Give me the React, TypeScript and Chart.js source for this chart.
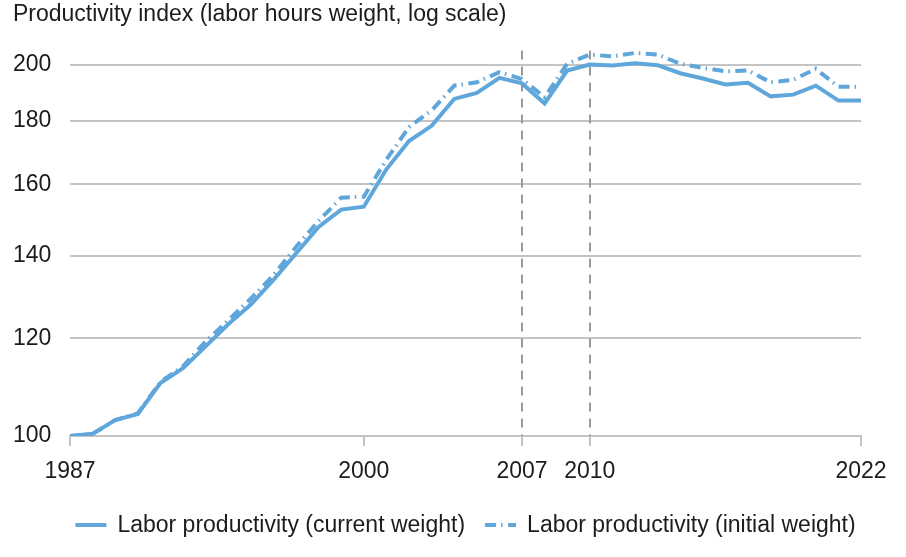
import React, { useEffect, useRef } from 'react';
import { Chart, registerables } from 'chart.js';

Chart.register(...registerables);

const years = [
  1987, 1988, 1989, 1990, 1991, 1992, 1993, 1994, 1995, 1996, 1997, 1998,
  1999, 2000, 2001, 2002, 2003, 2004, 2005, 2006, 2007, 2008, 2009, 2010,
  2011, 2012, 2013, 2014, 2015, 2016, 2017, 2018, 2019, 2020, 2021, 2022,
];
const currentWeight = [
  100, 100.4, 103.0, 104.2, 110.4, 113.5, 118.2, 123.2, 127.8, 133.8, 140.6, 147.7,
  152.6, 153.4, 164.5, 173.4, 178.4, 187.6, 189.7, 195.1, 193.1, 186.0, 197.8, 200.0,
  199.7, 200.5, 199.8, 196.8, 194.9, 192.7, 193.3, 188.5, 189.1, 192.3, 187.0, 187.0,
];
const initialWeight = [
  100, 100.4, 103.0, 104.3, 110.6, 113.9, 119.3, 124.1, 129.2, 135.0, 142.3, 149.4,
  156.0, 156.3, 167.5, 178.0, 183.6, 192.3, 193.5, 197.2, 194.7, 188.2, 200.3, 203.8,
  203.1, 204.4, 203.8, 200.3, 198.8, 197.5, 197.8, 193.5, 194.4, 198.4, 191.9, 191.9,
];
const xTickYears = [1987, 2000, 2007, 2010, 2022];
const yTickValues = [100, 120, 140, 160, 180, 200];
const markerYears = [2007, 2010];
const titleText = 'Productivity index (labor hours weight, log scale)';
const seriesLabels = [
  'Labor productivity (current weight)',
  'Labor productivity (initial weight)',
];

const FONT = "'Liberation Sans', Arial, Helvetica, sans-serif";
const LINE_COLOR = '#5fa6db';
const TEXT_COLOR = '#1c1c1c';
const DASH = [11, 5, 1.5, 5.5];

const markerLines = {
  id: 'markerLines',
  beforeDatasetsDraw(chart: any) {
    const { ctx, chartArea, scales } = chart;
    ctx.save();
    ctx.strokeStyle = '#9a9a9a';
    ctx.lineWidth = 2;
    ctx.setLineDash([9, 7]);
    markerYears.forEach((yr) => {
      const x = Math.round(scales.x.getPixelForValue(yr));
      ctx.beginPath();
      ctx.moveTo(x, chartArea.top);
      ctx.lineTo(x, chartArea.bottom);
      ctx.stroke();
    });
    ctx.restore();
  },
};

// Legend centred under the plot area (drawn from the datasets)
const bottomLegend = {
  id: 'bottomLegend',
  afterDraw(chart: any) {
    const { ctx, chartArea } = chart;
    const datasets = chart.data.datasets;
    const sampleW = 31;
    const textGap = 11;
    const itemGap = 20;
    ctx.save();
    ctx.font = `23px ${FONT}`;
    ctx.textBaseline = 'middle';
    ctx.textAlign = 'left';
    const widths = datasets.map((ds: any) => sampleW + textGap + ctx.measureText(ds.label).width);
    const total = widths.reduce((a: number, b: number) => a + b, 0) + itemGap * (datasets.length - 1);
    let x = (chartArea.left + chartArea.right) / 2 - total / 2;
    const y = 525;
    datasets.forEach((ds: any, i: number) => {
      ctx.strokeStyle = ds.borderColor;
      ctx.lineWidth = ds.borderWidth;
      ctx.setLineDash(ds.borderDash || []);
      ctx.beginPath();
      ctx.moveTo(x, y);
      ctx.lineTo(x + sampleW, y);
      ctx.stroke();
      ctx.setLineDash([]);
      ctx.fillStyle = TEXT_COLOR;
      ctx.fillText(ds.label, x + sampleW + textGap, y + 1);
      x += widths[i] + itemGap;
    });
    ctx.restore();
  },
};

export default function App() {
  const canvasRef = useRef<HTMLCanvasElement | null>(null);

  useEffect(() => {
    document.body.style.margin = '0';
    const canvas = canvasRef.current;
    if (!canvas) return;
    const chart = new Chart(canvas, {
      type: 'line',
      data: {
        datasets: [
          {
            label: seriesLabels[0],
            data: years.map((yr, i) => ({ x: yr, y: currentWeight[i] })),
            borderColor: LINE_COLOR,
            backgroundColor: LINE_COLOR,
            borderWidth: 4,
            pointRadius: 0,
            tension: 0,
          },
          {
            label: seriesLabels[1],
            data: years.map((yr, i) => ({ x: yr, y: initialWeight[i] })),
            borderColor: LINE_COLOR,
            backgroundColor: LINE_COLOR,
            borderWidth: 4,
            borderDash: DASH,
            pointRadius: 0,
            tension: 0,
          },
        ],
      },
      options: {
        animation: false,
        responsive: false,
        maintainAspectRatio: false,
        layout: { padding: { left: 13, right: 45, top: 0, bottom: 75 } },
        scales: {
          x: {
            type: 'linear',
            min: 1987,
            max: 2022,
            afterBuildTicks: (scale: any) => {
              scale.ticks = xTickYears.map((v) => ({ value: v }));
            },
            afterFit: (scale: any) => {
              scale.height = 46;
            },
            ticks: {
              autoSkip: false,
              maxRotation: 0,
              padding: 12,
              color: TEXT_COLOR,
              font: { family: FONT, size: 23 },
              callback: (v: any) => String(v),
            },
            grid: {
              drawOnChartArea: false,
              drawTicks: true,
              tickLength: 10,
              color: '#c4c4c4',
              lineWidth: 2,
            },
            border: { display: true, color: '#c4c4c4', width: 2 },
          },
          y: {
            type: 'logarithmic',
            min: 100,
            max: 205.3,
            afterBuildTicks: (scale: any) => {
              scale.ticks = yTickValues.map((v) => ({ value: v }));
            },
            afterFit: (scale: any) => {
              scale.width = 57;
            },
            ticks: {
              crossAlign: 'far',
              padding: 8,
              color: TEXT_COLOR,
              font: { family: FONT, size: 23 },
              callback: (v: any) => String(v),
            },
            grid: {
              drawTicks: false,
              color: '#c4c4c4',
              lineWidth: 2,
            },
            border: { display: false },
          },
        },
        plugins: {
          title: {
            display: true,
            text: titleText,
            align: 'start',
            color: TEXT_COLOR,
            font: { family: FONT, size: 23, weight: 'normal' },
            padding: { top: 1, bottom: 22 },
          },
          legend: { display: false },
          tooltip: { enabled: false },
        },
      },
      plugins: [markerLines, bottomLegend],
    } as any);
    return () => chart.destroy();
  }, []);

  return (
    <div style={{ width: 906, height: 557, background: '#fff' }}>
      <canvas ref={canvasRef} width={906} height={557} style={{ display: 'block' }} />
    </div>
  );
}
